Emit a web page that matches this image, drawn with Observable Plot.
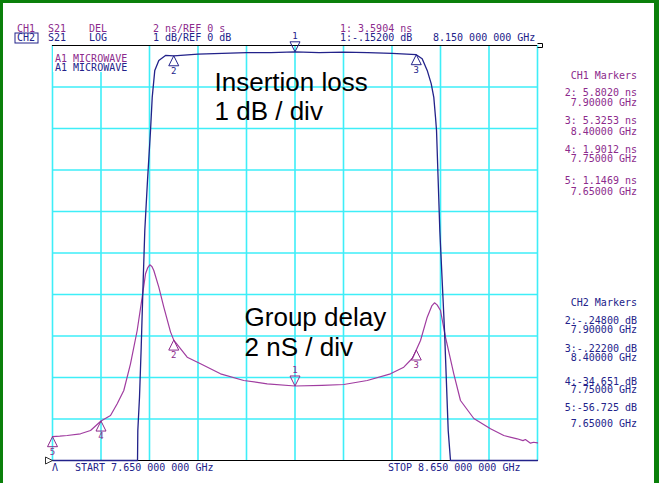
<!DOCTYPE html>
<html><head><meta charset="utf-8">
<script src="https://cdn.jsdelivr.net/npm/d3@7"></script>
<script src="https://cdn.jsdelivr.net/npm/@observablehq/plot@0.6"></script>
<style>
html,body{margin:0;padding:0;background:#fff;}
#wrap{position:relative;width:659px;height:483px;overflow:hidden;background:#fff;}
#frame{position:absolute;left:0;top:0;width:659px;height:483px;box-sizing:border-box;border-left:3px solid #0a800a;border-top:3px solid #0a800a;border-right:5px solid #0a800a;pointer-events:none;}
svg{display:block;}
</style></head><body><div id="wrap"><div id="frame"></div></div>
<script>
// ---- grid / scale ticks ----
const freqGrid = [7.65, 7.75, 7.85, 7.95, 8.05, 8.15, 8.25, 8.35, 8.45, 8.55, 8.65];
const delayGrid = [2, 4, 6, 8, 10, 12, 14, 16, 18];

// ---- CH1: group delay (GHz, ns) ----
const delayFreq = [7.65, 7.665, 7.6803, 7.7077, 7.7284, 7.75, 7.7696, 7.7834, 7.797, 7.8108, 7.8246, 7.8349, 7.8418, 7.8465, 7.8506, 7.855, 7.8589, 7.8692, 7.8795, 7.8933, 7.9, 7.9277, 7.9552, 7.9964, 8.0444, 8.0927, 8.15, 8.2059, 8.2506, 8.2989, 8.3469, 8.3743, 8.393, 8.4, 8.4088, 8.4226, 8.432, 8.4376, 8.443, 8.45, 8.4603, 8.4774, 8.4912, 8.5187, 8.5531, 8.5805, 8.6081, 8.62, 8.625, 8.6356, 8.642, 8.65];
const delayNs = [1.1469, 1.17, 1.205, 1.287, 1.446, 1.9012, 2.169, 2.733, 3.373, 4.66, 6.265, 7.87, 8.998, 9.3, 9.43, 9.35, 9.157, 8.352, 7.388, 6.2, 5.802, 4.978, 4.66, 4.178, 3.855, 3.696, 3.5904, 3.62, 3.663, 3.855, 4.178, 4.496, 4.95, 5.3253, 5.783, 6.906, 7.45, 7.6, 7.5, 7.229, 5.942, 4.178, 2.892, 2.024, 1.528, 1.205, 1.046, 0.96, 1.01, 0.834, 0.88, 0.853];

// ---- CH2: insertion loss (GHz, dB) ----
const lossFreq = [7.65, 7.7, 7.75, 7.8, 7.8253, 7.8259, 7.8294, 7.8329, 7.837, 7.8403, 7.8459, 7.8521, 7.8556, 7.8609, 7.8692, 7.883, 7.9, 7.95, 8.0, 8.05, 8.1, 8.15, 8.2, 8.25, 8.3, 8.35, 8.4, 8.4122, 8.4226, 8.4308, 8.4362, 8.4397, 8.4418, 8.4486, 8.4583, 8.4659, 8.4706, 8.5, 8.55, 8.6, 8.65];
const lossDb = [-56.725, -48, -34.651, -18, -10.2, -9.28, -8.47, -7.27, -5.66, -4.46, -3.25, -2.05, -1.25, -0.6, -0.36, -0.24, -0.248, -0.21, -0.19, -0.17, -0.17, -0.152, -0.17, -0.16, -0.17, -0.19, -0.222, -0.32, -0.6, -0.92, -1.25, -1.73, -2.05, -4.46, -6.87, -9.28, -10.2, -22, -35, -45, -52];

// ---- markers ----
const markerNums = [1, 2, 3, 4, 5];
const markerFreq = [8.15, 7.9, 8.4, 7.75, 7.65];
const ch1MarkerNs = [3.5904, 5.802, 5.3253, 1.9012, 1.1469];
const ch2MarkerDb = [-0.152, -0.248, -0.222, -34.651, -56.725];

// ---- texts ----
const headerCh1 = ["CH1", "S21", "DEL", "2 ns/REF 0 s", "1: 3.5904 ns"];
const headerCh2 = ["CH2", "S21", "LOG", "1 dB/REF 0 dB", "1:-.15200 dB", "8.150 000 000 GHz"];
const traceLabels = ["A1 MICROWAVE", "A1 MICROWAVE"];
const ch1Panel = ["CH1 Markers", "2: 5.8020 ns", "7.90000 GHz", "3: 5.3253 ns", "8.40000 GHz", "4: 1.9012 ns", "7.75000 GHz", "5: 1.1469 ns", "7.65000 GHz"];
const ch2Panel = ["CH2 Markers", "2:-.24800 dB", "7.90000 GHz", "3:-.22200 dB", "8.40000 GHz", "4:-34.651 dB", "7.75000 GHz", "5:-56.725 dB", "7.65000 GHz"];
const footer = ["START 7.650 000 000 GHz", "STOP 8.650 000 000 GHz", "\u039B"];
const annoText = ["Insertion loss\n1 dB / div", "Group delay\n2 nS / div"];
const annoFreq = [7.984, 8.046];
const annoNs = [16.42, 5.06];

// ---- tables ----
const delayData = delayFreq.map((f, i) => ({f, ns: delayNs[i]}));
const lossData = lossFreq.map((f, i) => ({f, db: lossDb[i]}));
const ch1Markers = markerNums.map((n, i) => ({n, f: markerFreq[i], v: ch1MarkerNs[i]}));
const ch2Markers = markerNums.map((n, i) => ({n, f: markerFreq[i], v: ch2MarkerDb[i]})).filter(d => d.v >= -10);
const annos = annoText.map((t, i) => ({t, f: annoFreq[i], y: annoNs[i]}));

// CH2 is 1 dB/div with REF 0 dB at the top graticule line (10 divisions); shares the 2 ns/div grid
const dbToY = db => (Math.max(db, -10) + 10) * 2;

const PURPLE = "#a03ca0", PURPLE_T = "#8c2a8c", NAVY = "#22228a", CYAN = "#3eeef8";
const triUp = {draw(c){ c.moveTo(0,0); c.lineTo(-5,10); c.lineTo(5,10); c.closePath(); }};
const triDown = {draw(c){ c.moveTo(0,0); c.lineTo(-5,-10); c.lineTo(5,-10); c.closePath(); }};
const refTri = {draw(c){ c.moveTo(0,0); c.lineTo(-7,-3.5); c.lineTo(-7,3.5); c.closePath(); }};
const endCap = {draw(c){ c.moveTo(0,-2); c.lineTo(5,-2); c.lineTo(5,2); c.lineTo(0,2); }};
const mono = "DejaVu Sans Mono, monospace";

const svg = Plot.plot({
  width: 659, height: 483,
  marginLeft: 52, marginRight: 122, marginTop: 45, marginBottom: 23,
  x: {domain: [7.65, 8.65], axis: null},
  y: {domain: [0, 20], axis: null},
  style: {background: "transparent", overflow: "visible"},
  marks: [
    Plot.ruleX(freqGrid, {x: d => d, stroke: CYAN, strokeWidth: 1.6}),
    Plot.ruleY(delayGrid, {y: d => d, stroke: CYAN, strokeWidth: 1.6}),
    Plot.ruleY([20], {y: d => d, stroke: "#000", strokeWidth: 1.2}),
    Plot.ruleY([0], {y: d => d, stroke: "#000", strokeWidth: 1.2}),
    Plot.text(annos, {x: "f", y: "y", text: "t", textAnchor: "start", lineAnchor: "bottom", lineHeight: 1.12, fontSize: 26, fontFamily: "Liberation Sans, Arial, sans-serif", fill: "#000"}),
    Plot.line(delayData, {x: "f", y: "ns", stroke: PURPLE, strokeWidth: 1.2}),
    Plot.line(lossData, {x: "f", y: d => dbToY(d.db), stroke: NAVY, strokeWidth: 1.3}),
    Plot.dot(ch1Markers.filter(d => d.n !== 1), {x: "f", y: "v", symbol: triUp, fill: "none", stroke: PURPLE_T, strokeWidth: 1}),
    Plot.dot(ch1Markers.filter(d => d.n === 1), {x: "f", y: "v", symbol: triDown, fill: "none", stroke: PURPLE_T, strokeWidth: 1}),
    Plot.text(ch1Markers.filter(d => d.n !== 1), {x: "f", y: "v", text: "n", dy: 18, lineAnchor: "bottom", fontSize: 9, fontFamily: mono, fill: PURPLE_T}),
    Plot.text(ch1Markers.filter(d => d.n === 1), {x: "f", y: "v", text: "n", dy: -13, lineAnchor: "bottom", fontSize: 9, fontFamily: mono, fill: PURPLE_T}),
    Plot.dot(ch2Markers.filter(d => d.n !== 1), {x: "f", y: d => dbToY(d.v), symbol: triUp, fill: "none", stroke: NAVY, strokeWidth: 1}),
    Plot.dot(ch2Markers.filter(d => d.n === 1), {x: "f", y: d => dbToY(d.v), symbol: triDown, fill: "none", stroke: NAVY, strokeWidth: 1}),
    Plot.text(ch2Markers.filter(d => d.n !== 1), {x: "f", y: d => dbToY(d.v), text: "n", dy: 18, lineAnchor: "bottom", fontSize: 9, fontFamily: mono, fill: NAVY}),
    Plot.text(ch2Markers.filter(d => d.n === 1), {x: "f", y: d => dbToY(d.v), text: "n", dy: -13, lineAnchor: "bottom", fontSize: 9, fontFamily: mono, fill: NAVY}),
    Plot.dot([0], {frameAnchor: "bottom-left", symbol: refTri, fill: "none", stroke: "#333", strokeWidth: 1}),
    Plot.dot([0], {frameAnchor: "top-right", symbol: endCap, fill: "none", stroke: "#000", strokeWidth: 1})
  ]
});
document.getElementById("wrap").insertBefore(svg, document.getElementById("frame"));

// ---- instrument annotation text (layout) ----
const g = d3.select(svg).append("g")
  .attr("font-family", mono).attr("font-size", 10).attr("text-anchor", "start")
  .style("font-family", mono).style("font-size", "10px").style("text-anchor", "start");
const headerCols = [17, 48, 89, 153, 340, 433];
headerCh1.forEach((t, i) => g.append("text").attr("x", headerCols[i]).attr("y", 32).attr("fill", PURPLE_T).text(t));
headerCh2.forEach((t, i) => g.append("text").attr("x", headerCols[i]).attr("y", 41).attr("fill", NAVY).text(t));
g.append("rect").attr("x", 15).attr("y", 33).attr("width", 23).attr("height", 10).attr("fill", "none").attr("stroke", NAVY).attr("stroke-width", 1);

// trace title block with white background
d3.select(svg).insert("rect", "g[aria-label='line']").attr("x", 53).attr("y", 46).attr("width", 92).attr("height", 26).attr("fill", "#fff");
g.append("text").attr("x", 55).attr("y", 62).attr("fill", PURPLE_T).text(traceLabels[0]);
g.append("text").attr("x", 55).attr("y", 71).attr("fill", NAVY).text(traceLabels[1]);

const ch1Base = [79, 96, 106, 124, 135, 153, 162, 184, 195];
const ch2Base = [306, 324, 333, 352, 361, 385, 393, 411, 427];
ch1Panel.forEach((t, i) => g.append("text").attr("x", 637).attr("y", ch1Base[i]).style("text-anchor", "end").attr("fill", PURPLE_T).text(t));
ch2Panel.forEach((t, i) => g.append("text").attr("x", 637).attr("y", ch2Base[i]).style("text-anchor", "end").attr("fill", NAVY).text(t));

g.append("text").attr("x", 75).attr("y", 471).attr("fill", NAVY).text(footer[0]);
g.append("text").attr("x", 388).attr("y", 471).attr("fill", NAVY).text(footer[1]);
g.append("text").attr("x", 55).attr("y", 471).style("text-anchor", "middle").attr("fill", NAVY).text(footer[2]);
</script></body></html>
